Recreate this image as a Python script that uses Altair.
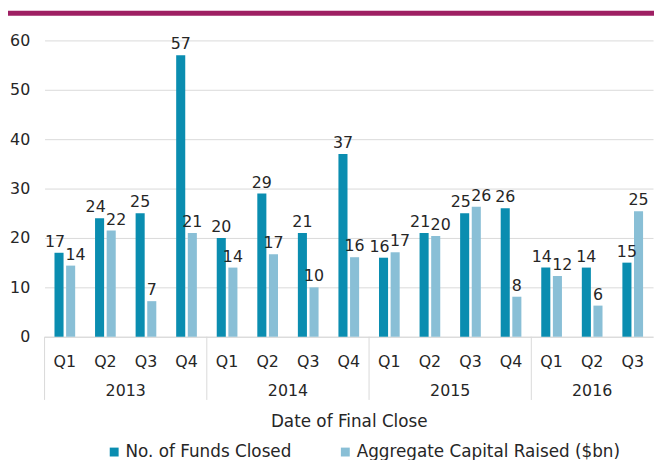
import altair as alt
import pandas as pd

years = [2013, 2013, 2013, 2013, 2014, 2014, 2014, 2014,
         2015, 2015, 2015, 2015, 2016, 2016, 2016]
quarters = ["Q1", "Q2", "Q3", "Q4", "Q1", "Q2", "Q3", "Q4",
            "Q1", "Q2", "Q3", "Q4", "Q1", "Q2", "Q3"]
funds_closed = [17, 24, 25, 57, 20, 29, 21, 37, 16, 21, 25, 26, 14, 14, 15]
capital_raised = [14.4, 21.5, 7.2, 21.0, 14.0, 16.7, 10.0, 16.1,
                  17.1, 20.4, 26.3, 8.1, 12.3, 6.3, 25.4]
series_names = ["No. of Funds Closed", "Aggregate Capital Raised ($bn)"]
series_colors = ["#0a8db0", "#89bfd6"]

FONT = "DejaVu Sans"
TXT = "#262626"
GRID = "#d9d9d9"
W, H = 616, 300

keys = [f"{y}|{q}" for y, q in zip(years, quarters)]
rows = []
for k, f, c in zip(keys, funds_closed, capital_raised):
    close = abs(f - c) < 3  # labels of the pair would collide
    rows.append({"key": k, "series": series_names[0], "value": f, "close": close})
    rows.append({"key": k, "series": series_names[1], "value": c, "close": close})
df = pd.DataFrame(rows)

# year groups
ydf = pd.DataFrame({"year": years, "i": range(len(years))})
grp = ydf.groupby("year")["i"].agg(["min", "count"]).reset_index()
grp["start"] = grp["min"]
grp["mid"] = grp["min"] + grp["count"] / 2
grp["year"] = grp["year"].astype(str)

xenc = alt.X(
    "key:N", sort=keys,
    scale=alt.Scale(paddingInner=0.49, paddingOuter=0.245),
    axis=alt.Axis(
        labelExpr="split(datum.label, '|')[1]", labelAngle=0,
        title="Date of Final Close", ticks=False, grid=False,
        domainColor=GRID, domainWidth=1, labelPadding=17,
        labelFontSize=16, labelColor=TXT, labelFont=FONT,
        titleFontSize=17, titleColor=TXT, titleFont=FONT,
        titleFontWeight="normal", titlePadding=45,
    ),
)
xoff = alt.XOffset("series:N", sort=series_names,
                   scale=alt.Scale(paddingInner=0.22, paddingOuter=0))
yenc = alt.Y(
    "value:Q", scale=alt.Scale(domain=[0, 60], nice=False),
    axis=alt.Axis(values=[0, 10, 20, 30, 40, 50, 60], title=None,
                  domain=False, ticks=False, gridColor=GRID,
                  labelPadding=15, labelFontSize=16, labelColor=TXT,
                  labelFont=FONT),
)

base = alt.Chart(df)
bars = base.mark_bar().encode(
    x=xenc, xOffset=xoff, y=yenc,
    color=alt.Color(
        "series:N", sort=series_names,
        scale=alt.Scale(domain=series_names, range=series_colors),
        legend=alt.Legend(
            orient="none", legendX=62, legendY=408, direction="horizontal",
            title=None, symbolType="square", symbolSize=81,
            symbolStrokeWidth=0, labelFontSize=17, labelFont=FONT,
            labelColor=TXT, labelOffset=3, columnPadding=46,
            labelLimit=400,
        ),
    ),
)


def label_layer(filt, dx):
    return base.transform_filter(filt).mark_text(
        baseline="alphabetic", dy=-6, dx=dx, fontSize=16, font=FONT, color=TXT
    ).encode(
        x=alt.X("key:N", sort=keys),
        xOffset=alt.XOffset("series:N", sort=series_names),
        y=alt.Y("value:Q"), text=alt.Text("value:Q", format=".0f"),
    )


labels_free = label_layer("!datum.close", 0)
labels_dark = label_layer(f"datum.close && datum.series == '{series_names[0]}'", -4)
labels_light = label_layer(f"datum.close && datum.series == '{series_names[1]}'", 5)

qscale = alt.Scale(domain=[0, 15], nice=False, zero=False)
ychart = alt.Chart(grp)
seps = ychart.mark_rule(color=GRID, strokeWidth=1).encode(
    x=alt.X("start:Q", scale=qscale, axis=None),
    y=alt.value(H), y2=alt.value(H + 64),
)
ylabels = ychart.mark_text(
    baseline="middle", fontSize=16, font=FONT, color=TXT
).encode(
    x=alt.X("mid:Q", scale=qscale, axis=None),
    y=alt.value(H + 55), text="year:N",
)
topline = alt.Chart(pd.DataFrame({"a": [0]})).mark_rule(
    color="#9e1f63", strokeWidth=5
).encode(x=alt.value(-37), x2=alt.value(W + 1), y=alt.value(-27.5))

chart = alt.layer(
    alt.layer(bars, labels_free, labels_dark, labels_light),
    alt.layer(seps, ylabels, topline),
).resolve_scale(x="independent").properties(
    width=W, height=H,
    autosize=alt.AutoSizeParams(type="none"),
    padding={"left": 37, "top": 30, "right": 1, "bottom": 122},
).configure_view(stroke=None)

chart.save("out.html", embed_options={"renderer": "svg", "actions": False})
